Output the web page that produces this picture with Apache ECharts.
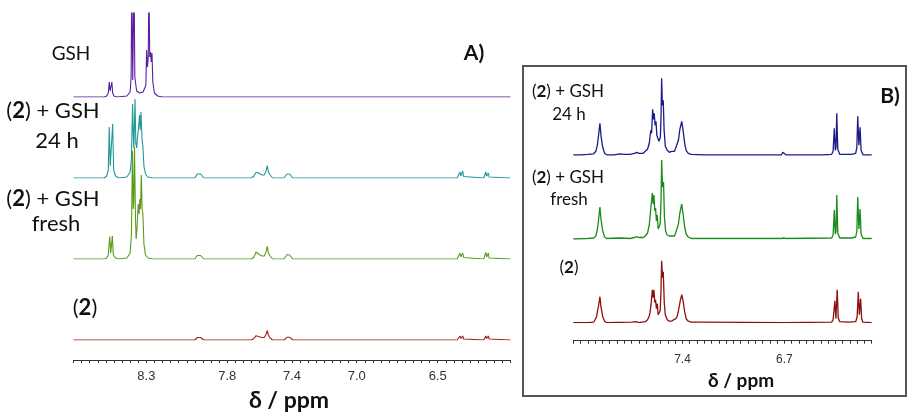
<!DOCTYPE html>
<html><head><meta charset="utf-8">
<script src="https://cdn.jsdelivr.net/npm/echarts@6/dist/echarts.min.js"></script>
<style>html,body{margin:0;padding:0;background:#fff}#c{width:908px;height:414px}</style>
</head><body><div id="c"></div>
<script>
// ---- tick labels ----
const ticksA = [8.3, 7.8, 7.4, 7.0, 6.5];
const ticksB = [7.4, 6.7];

// ---- panel A spectra: [ppm, intensity] ----
const gshA = [[8.75,0],[8.56,0],[8.545,1],[8.535,4],[8.529,15],[8.524,6],[8.518,5],[8.513,15],[8.508,4],[8.50,1],[8.48,0],[8.42,1],[8.40,5],[8.394,20],[8.390,120],[8.384,17],[8.381,17],[8.376,120],[8.371,20],[8.36,6],[8.34,4],[8.32,5],[8.31,9],[8.303,12],[8.298,47],[8.293,30],[8.288,40],[8.284,120],[8.279,40],[8.274,45],[8.270,35],[8.265,44],[8.260,15],[8.25,4],[8.23,1],[8.20,0],[6.05,0]];
const h24A = [[8.75,0],[8.56,0],[8.545,2],[8.535,8],[8.529,51],[8.523,12],[8.518,10],[8.513,12],[8.508,54],[8.502,8],[8.49,2],[8.47,0],[8.42,1],[8.40,6],[8.392,20],[8.385,74],[8.380,40],[8.377,30],[8.370,79],[8.365,35],[8.360,30],[8.355,40],[8.348,50],[8.342,63],[8.338,48],[8.333,66],[8.327,40],[8.321,31],[8.315,12],[8.305,4],[8.29,1],[8.26,0],[8.0,0],[7.995,2],[7.985,4],[7.975,5],[7.965,4],[7.955,2],[7.945,0],[7.65,0],[7.635,2],[7.622,5.7],[7.617,4],[7.612,7],[7.607,5],[7.602,6.7],[7.595,4],[7.585,3],[7.572,3],[7.562,6],[7.553,12.3],[7.546,6],[7.541,7.7],[7.535,3],[7.52,0],[7.45,0],[7.44,2],[7.43,4],[7.423,5],[7.415,4],[7.405,2],[7.395,0],[6.72,0],[6.708,1.5],[6.70,0],[6.38,0],[6.368,1.5],[6.362,6],[6.357,2],[6.350,2],[6.345,7],[6.340,1.5],[6.33,0],[6.215,0],[6.208,1.5],[6.203,6],[6.197,2],[6.192,2],[6.187,5],[6.182,1],[6.17,0],[6.05,0]];
const freshA = [[8.75,0],[8.56,0],[8.545,1],[8.535,4],[8.526,22.5],[8.520,6],[8.515,6],[8.510,23],[8.504,4],[8.49,1],[8.47,0],[8.42,1],[8.40,6],[8.392,25],[8.386,108],[8.381,50],[8.378,55],[8.373,112],[8.367,40],[8.363,20],[8.358,30],[8.350,55],[8.345,45],[8.340,60],[8.336,50],[8.331,84],[8.326,50],[8.321,45],[8.315,15],[8.305,4],[8.29,1],[8.26,0],[8.0,0],[7.995,1.5],[7.985,3.5],[7.975,4.3],[7.965,3.5],[7.955,1.5],[7.945,0],[7.65,0],[7.635,2],[7.622,7],[7.617,5],[7.612,8.3],[7.607,5],[7.602,6],[7.595,4],[7.585,3],[7.572,3],[7.562,6],[7.553,12.7],[7.546,6],[7.541,7.5],[7.535,3],[7.52,0],[7.45,0],[7.44,2],[7.43,4.5],[7.423,5.3],[7.415,4],[7.405,2],[7.395,0],[6.72,0],[6.708,1],[6.70,0],[6.38,0],[6.368,1.5],[6.362,6],[6.357,2],[6.350,2],[6.345,6],[6.340,1.5],[6.33,0],[6.215,0],[6.208,1.5],[6.203,6.7],[6.197,2],[6.192,2],[6.187,6],[6.182,1],[6.17,0],[6.05,0]];
const cpdA = [[8.75,0],[8.0,0],[7.995,1],[7.985,2.5],[7.975,3.3],[7.965,2.5],[7.955,1],[7.945,0],[7.65,0],[7.635,1.5],[7.622,4.3],[7.617,3],[7.612,5.3],[7.607,3.5],[7.602,4.5],[7.595,3],[7.585,2.5],[7.572,2.5],[7.562,5],[7.553,9.3],[7.546,5],[7.541,5.5],[7.535,2],[7.52,0],[7.45,0],[7.44,1.5],[7.43,2.8],[7.423,3.3],[7.415,2.8],[7.405,1.5],[7.395,0],[6.38,0],[6.368,1],[6.362,4],[6.357,1.5],[6.350,1.5],[6.345,4],[6.340,1],[6.33,0],[6.215,0],[6.208,1],[6.203,4],[6.197,1.5],[6.192,1.5],[6.187,4],[6.182,1],[6.17,0],[6.05,0]];

// ---- panel B spectra: [ppm, intensity] ----
const h24B = [[8.15,0.5],[8.10,0.5],[8.05,1],[8.01,1.5],[7.995,4],[7.985,10],[7.975,22],[7.967,32],[7.960,20],[7.955,18],[7.948,8],[7.935,2],[7.92,0.5],[7.87,0.5],[7.83,1.5],[7.80,1],[7.76,1],[7.73,2],[7.714,3],[7.70,2],[7.67,2],[7.655,4],[7.640,6],[7.628,12],[7.618,25],[7.612,22],[7.605,46],[7.600,36],[7.594,42],[7.588,30],[7.582,34],[7.576,20],[7.570,22],[7.562,14],[7.552,18],[7.547,40],[7.543,77],[7.538,50],[7.532,55],[7.526,25],[7.518,9],[7.505,5],[7.490,3],[7.475,4],[7.463,6],[7.455,4],[7.447,7],[7.438,8],[7.428,15],[7.418,26],[7.405,34],[7.395,24],[7.385,12],[7.375,5],[7.36,2],[7.34,1],[7.25,0.5],[6.72,0.5],[6.711,3],[6.706,1],[6.700,3],[6.69,0.5],[6.46,0.5],[6.455,1.5],[6.44,0.5],[6.375,1],[6.365,4],[6.357,27],[6.350,5],[6.345,8],[6.340,42],[6.333,6],[6.32,1],[6.26,1],[6.249,2],[6.24,1],[6.21,2],[6.202,8],[6.196,39],[6.188,10],[6.180,28],[6.173,5],[6.16,0.5],[6.10,0.5]];
const freshB = [[8.15,0],[8.05,0.5],[8.01,1],[7.995,3],[7.985,9],[7.975,21],[7.967,32],[7.960,20],[7.955,19],[7.948,8],[7.935,2],[7.92,0.5],[7.83,1],[7.76,0.5],[7.73,1.5],[7.714,2.3],[7.70,1.5],[7.67,1.5],[7.655,3],[7.640,6],[7.628,14],[7.618,30],[7.612,28],[7.607,46],[7.601,35],[7.596,44],[7.590,28],[7.585,31],[7.579,18],[7.573,24],[7.567,10],[7.561,9],[7.553,15],[7.547,40],[7.543,79],[7.537,52],[7.530,57],[7.524,22],[7.516,8],[7.505,4],[7.490,3],[7.475,3],[7.463,5],[7.455,3],[7.447,6],[7.438,7],[7.428,15],[7.418,26],[7.405,35],[7.395,24],[7.385,12],[7.375,5],[7.36,2],[7.34,0.5],[6.72,0.5],[6.711,2],[6.706,1],[6.700,3],[6.69,0.5],[6.375,1],[6.365,4],[6.357,29],[6.350,5],[6.345,8],[6.340,44],[6.333,6],[6.32,1],[6.26,1],[6.249,2],[6.24,1],[6.21,2],[6.202,8],[6.196,42],[6.188,10],[6.180,30],[6.173,5],[6.16,0.5],[6.10,0.5]];
const cpdB = [[8.15,0],[8.05,0],[8.01,0.5],[8.0,2],[7.990,6],[7.983,12],[7.975,18],[7.967,26],[7.960,16],[7.955,14],[7.948,6],[7.935,1.5],[7.92,0],[7.75,0.5],[7.72,1],[7.70,0],[7.655,1],[7.640,3],[7.630,6],[7.623,10],[7.616,18],[7.607,33],[7.601,25],[7.596,33],[7.590,20],[7.585,23],[7.579,14],[7.573,19],[7.567,8],[7.561,8],[7.553,12],[7.548,30],[7.543,62],[7.537,45],[7.532,51],[7.525,20],[7.518,8],[7.505,3],[7.49,1.5],[7.475,1.5],[7.460,3],[7.445,4],[7.435,7],[7.425,14],[7.415,22],[7.405,28],[7.395,21],[7.385,11],[7.375,4],[7.36,1.5],[7.34,0.5],[7.26,0.5],[7.257,1],[7.25,0],[6.71,0],[6.706,1.5],[6.70,0],[6.375,0.5],[6.365,3],[6.353,22],[6.346,4],[6.342,6],[6.337,33],[6.330,5],[6.32,1],[6.26,0.5],[6.21,1],[6.200,6],[6.192,31],[6.185,8],[6.176,24],[6.169,4],[6.16,0.5],[6.10,0]];

const FONT = 'Lato, "Open Sans", sans-serif';
const AXFONT = '"Liberation Sans", Arial, sans-serif';

const panels = [
  {left:73.5, width:437, min:6.05, max:8.75, ticks:ticksA, labelSize:13, labelMargin:10, offset:20, lw:1.1,
   rows:[{top:13,h:84,data:gshA,color:'#5a1f9f'},{top:88,h:90,data:h24A,color:'#20979a'},{top:139,h:120,data:freshA,color:'#5b9b1c'},{top:300,h:40,data:cpdA,color:'#a11d1d'}]},
  {left:573.3, width:298.4, min:6.10, max:8.15, ticks:ticksB, labelSize:12, labelMargin:13, offset:18, lw:1.3,
   rows:[{top:70.3,h:85,data:h24B,color:'#1b1b8a'},{top:154,h:85,data:freshB,color:'#1b8a1b'},{top:252.7,h:70,data:cpdB,color:'#8c1010'}]}
];

const grid=[], xAxis=[], yAxis=[], series=[];
panels.forEach(p=>{
  p.rows.forEach((r,i)=>{
    const gi = grid.length;
    const last = i===p.rows.length-1;
    grid.push({left:p.left, width:p.width, top:r.top, height:r.h, outerBoundsMode:'none', containLabel:false});
    xAxis.push({gridIndex:gi, type:'value', min:p.min, max:p.max, interval:0.05, inverse:true, show:last,
      position:'bottom', offset:last?p.offset:0, splitLine:{show:false},
      axisLine:{show:true, onZero:false, lineStyle:{color:'#333', width:1}},
      axisTick:{show:true, length:3, lineStyle:{color:'#333', width:1}},
      axisLabel:{show:true, margin:p.labelMargin, fontSize:p.labelSize, color:'#333', fontFamily:AXFONT,
        showMinLabel:true, showMaxLabel:true,
        formatter:v=>{const t=p.ticks.find(k=>Math.abs(k-v)<1e-6);return t===undefined?'':t.toFixed(1);}}});
    yAxis.push({gridIndex:gi, type:'value', min:0, max:r.h, show:false, splitLine:{show:false}});
    series.push({type:'line', xAxisIndex:gi, yAxisIndex:gi, data:r.data, symbol:'none', showSymbol:false,
      clip:true, lineStyle:{color:r.color, width:p.lw}, itemStyle:{color:r.color}, animation:false, silent:true});
  });
});

function lab(x,y,text,size){
  const rich={a:{fontSize:size,fontFamily:FONT,fill:'#111',color:'#111'},b:{fontSize:size,fontFamily:FONT,fontWeight:'bold',fill:'#111',color:'#111'}};
  return {type:'text', x:x, y:y, z:100, style:{text:text, rich:rich, font:size+'px '+FONT, fill:'#111',
    textAlign:'center', textVerticalAlign:'middle', align:'center', verticalAlign:'middle'}};
}
const cpdTxt='{a|(}{b|2}{a|) + GSH}';
const graphic=[
  {type:'rect', shape:{x:523,y:66,width:383,height:330}, style:{fill:'none', stroke:'#555', lineWidth:2}, z:1},
  lab(71,54,'{a|GSH}',19),
  lab(53,111,cpdTxt,22),
  lab(57,141,'{a|24 h}',22),
  lab(53,199,cpdTxt,22),
  lab(56,224,'{a|fresh}',22),
  lab(85,308,'{a|(}{b|2}{a|)}',22),
  lab(474,53,'{b|A)}',21),
  lab(289,401,'{b|δ / ppm}',23),
  lab(568,92,cpdTxt,17),
  lab(569,115,'{a|24 h}',17),
  lab(568,178,cpdTxt,17),
  lab(569,200,'{a|fresh}',17),
  lab(569,268,'{a|(}{b|2}{a|)}',17),
  lab(890,96,'{b|B)}',21),
  lab(741,381,'{b|δ / ppm}',19)
];

const chart = echarts.init(document.getElementById('c'), null, {renderer:'canvas'});
chart.setOption({animation:false, backgroundColor:'#fff', grid, xAxis, yAxis, series, graphic});
</script></body></html>
